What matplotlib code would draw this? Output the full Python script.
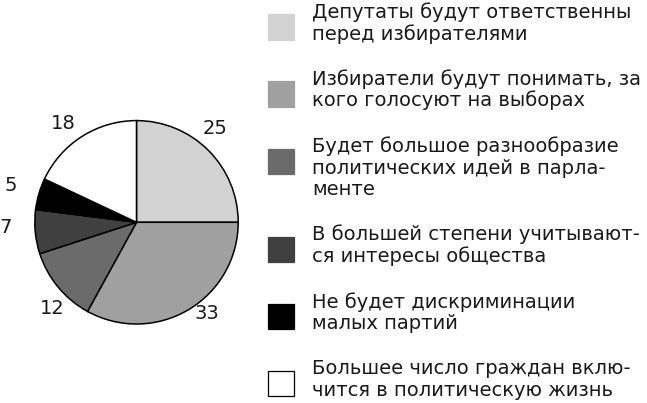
import numpy as np
import matplotlib
matplotlib.use('Agg')
import matplotlib.pyplot as plt
from matplotlib.patches import Rectangle

plt.rcParams['font.family'] = ['DejaVu Sans']

W, H = 647, 403

# данные
values = [25, 33, 12, 7, 5, 18]
colors = ['#d2d2d2', '#a0a0a0', '#6b6b6b', '#404040', '#000000', '#ffffff']
legend_lines = [
    ['Депутаты будут ответственны', 'перед избирателями'],
    ['Избиратели будут понимать, за', 'кого голосуют на выборах'],
    ['Будет большое разнообразие', 'политических идей в парла-', 'менте'],
    ['В большей степени учитывают-', 'ся интересы общества'],
    ['Не будет дискриминации', 'малых партий'],
    ['Большее число граждан вклю-', 'чится в политическую жизнь'],
]
# подписи чуть смещены от середины сектора
label_dist = [1.20, 1.13, 1.18, 1.29, 1.29, 1.21]
label_shift = [5, 7, 6, -3, 0, 4]

FS = 14

fig = plt.figure(figsize=(W / 100, H / 100), dpi=100)

# ---------- круговая диаграмма ----------
cx, cy, r = 136.5, 222.3, 101.7
ax = fig.add_axes([(cx - r) / W, 1 - (cy + r) / H, 2 * r / W, 2 * r / H])
wedges, _ = ax.pie(values, colors=colors, startangle=90, counterclock=False,
                   wedgeprops=dict(edgecolor='black', linewidth=1.1))
ax.set_xlim(-1, 1)
ax.set_ylim(-1, 1)
ax.set_aspect('equal')
ax.axis('off')

for w, v, d, s in zip(wedges, values, label_dist, label_shift):
    ang = np.deg2rad((w.theta1 + w.theta2) / 2 + s)
    ax.text(d * np.cos(ang), d * np.sin(ang), str(v), ha='center', va='center',
            fontsize=FS, color='#1a1a1a', clip_on=False)

# ---------- легенда ----------
y_base = 18
line_h = 21.5
for lines, c in zip(legend_lines, colors):
    sq_bottom = y_base + line_h
    fig.add_artist(Rectangle((268 / W, 1 - sq_bottom / H), 26 / W, 25 / H,
                             transform=fig.transFigure, facecolor=c,
                             edgecolor='black' if c == '#ffffff' else c, linewidth=0.9))
    for i, s in enumerate(lines):
        fig.text(312 / W, 1 - (y_base + i * line_h) / H, s, fontsize=FS,
                 va='baseline', ha='left', color='#1a1a1a')
    y_base += 67 + (len(lines) - 2) * line_h

plt.savefig('out.png', dpi=100)
